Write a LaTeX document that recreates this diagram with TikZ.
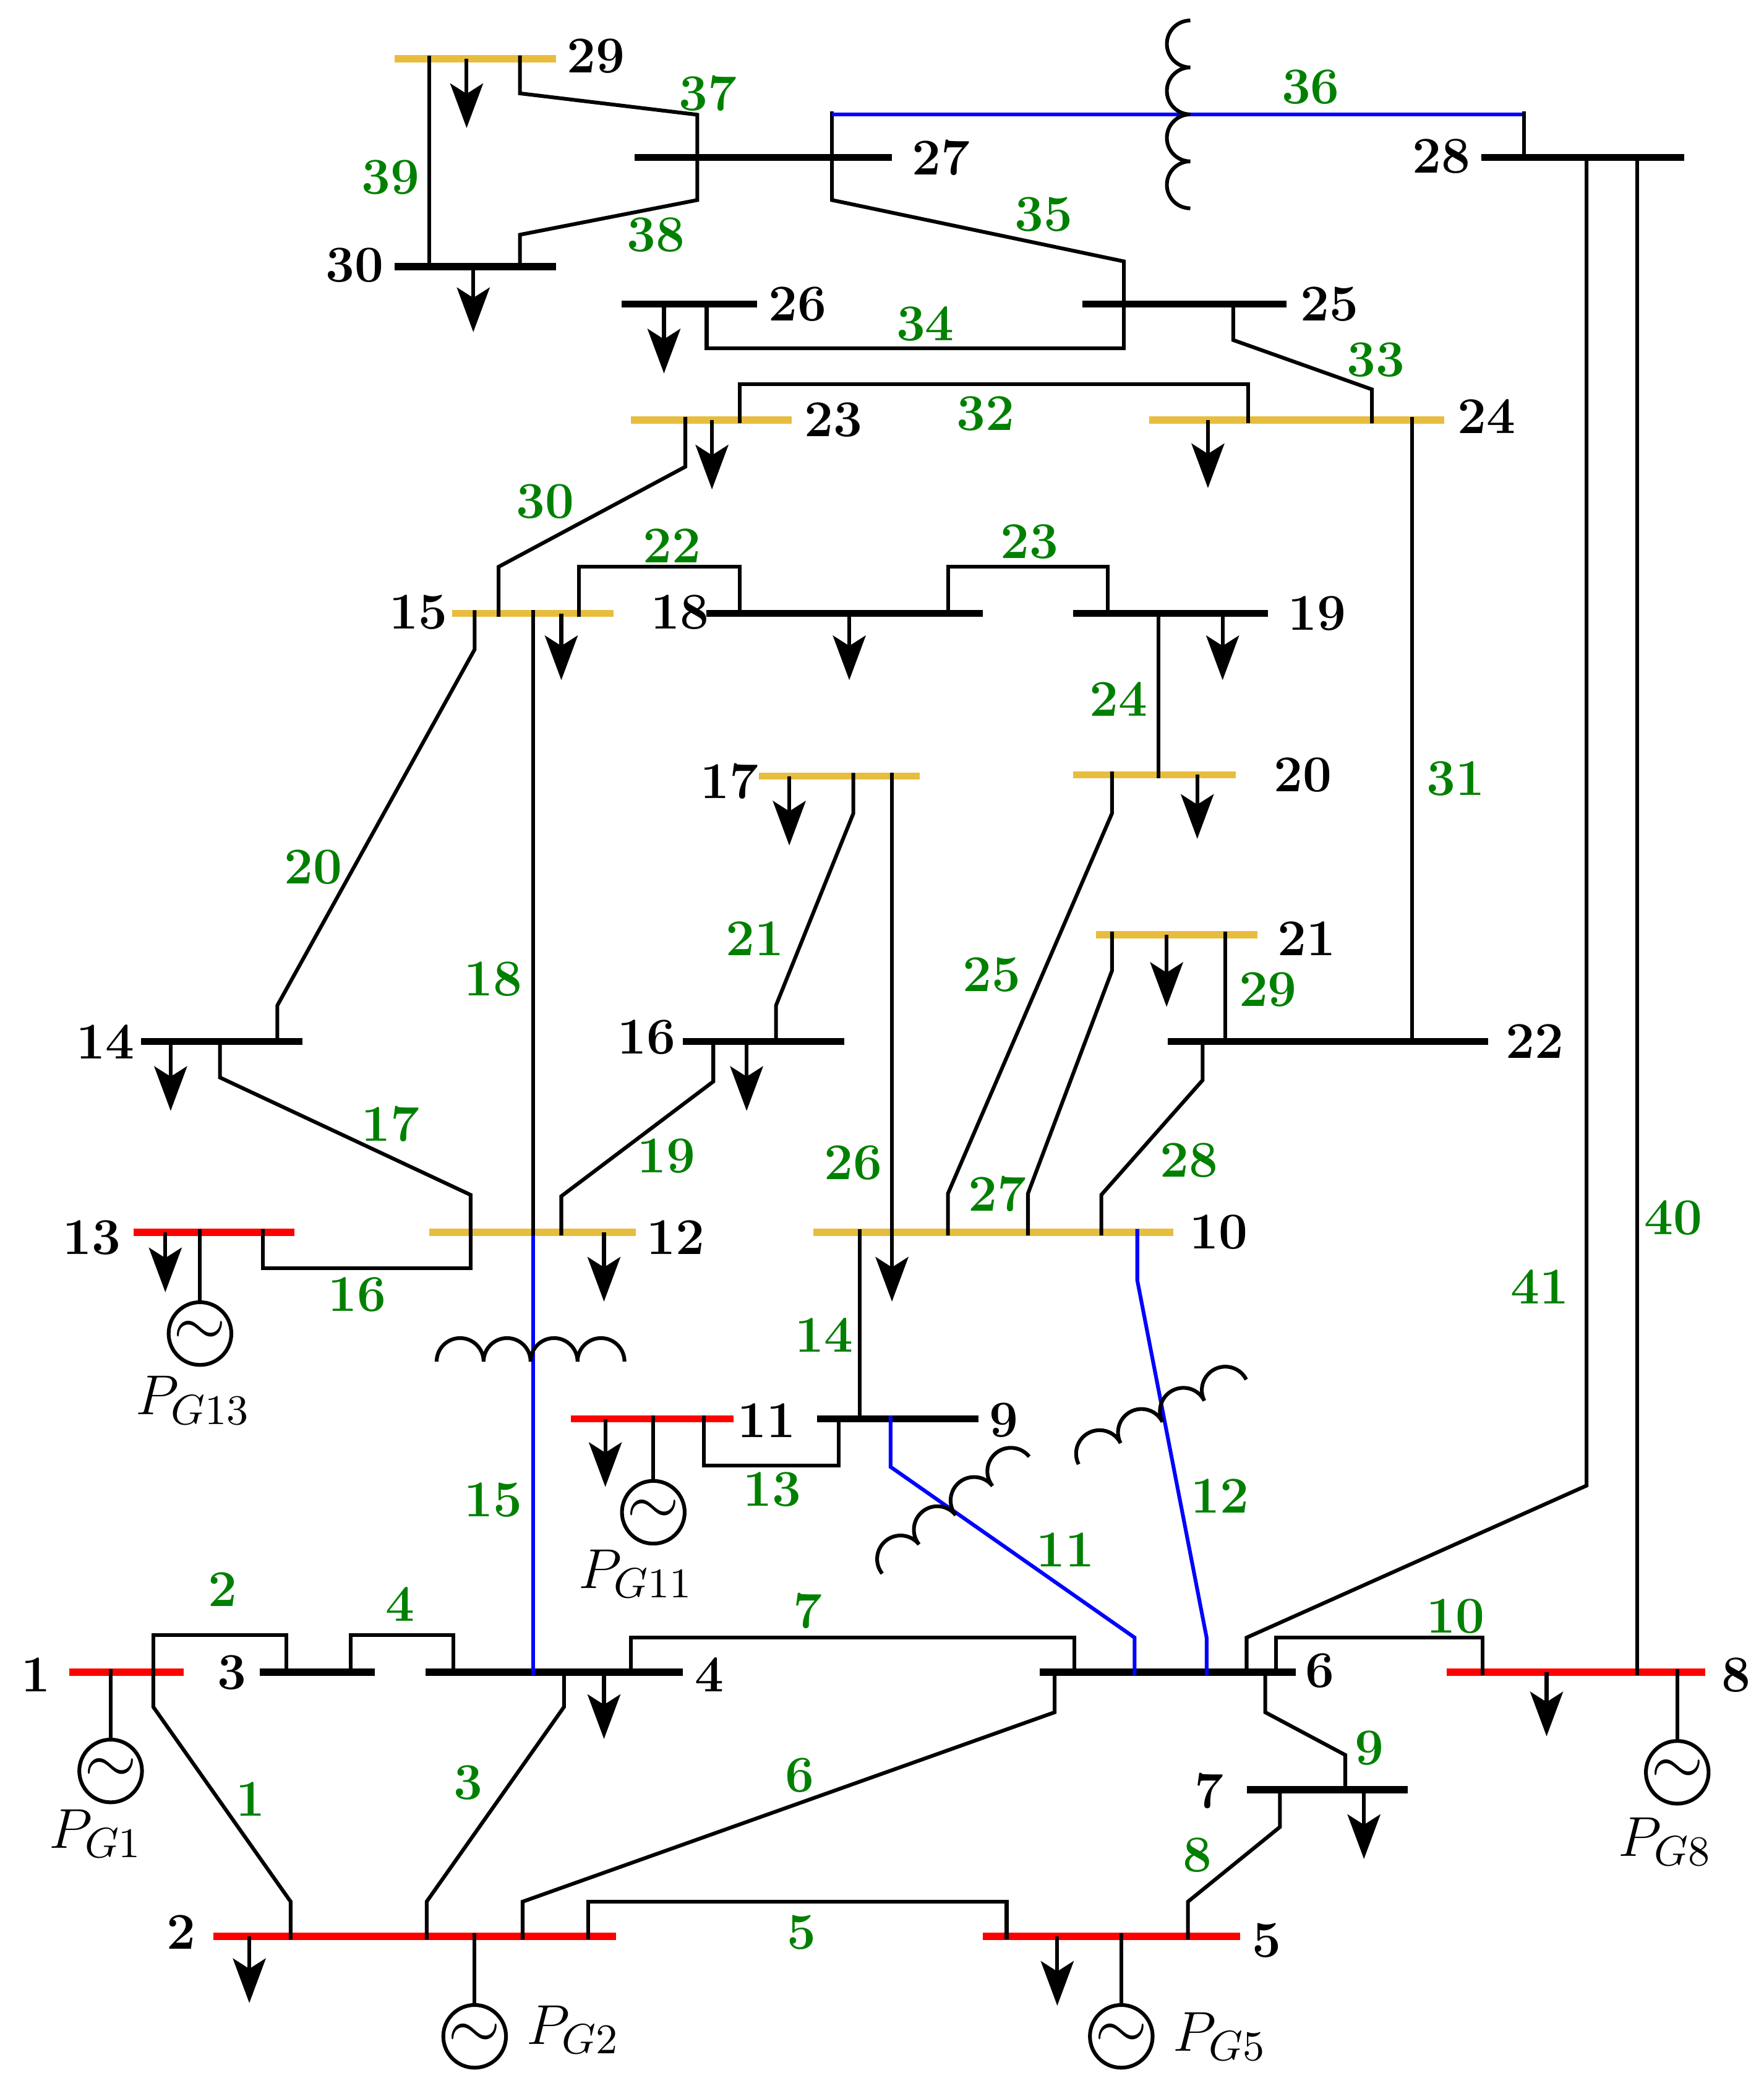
\documentclass[tikz,border=0pt]{standalone}
\usetikzlibrary{arrows.meta}
\definecolor{busgold}{RGB}{232,189,61}
\definecolor{linegreen}{RGB}{0,128,0}
\tikzset{
    busbar/.style={rectangle,inner sep=0pt,outer sep=0pt,minimum height=1.55pt},
    branch/.style={line width=0.8pt,shorten >=-0.7pt,shorten <=-0.7pt},
    xfmr/.style={branch,blue},
    load/.style={line width=0.8pt,-{Stealth[length=9.5pt,width=7pt,inset=2.2pt]}},
    coil/.style={line width=0.8pt},
    gen/.style={circle,draw,line width=0.8pt,inner sep=0pt,minimum size=0.47cm},
    busnum/.style={font=\fontsize{11}{13}\bfseries\selectfont,inner sep=0pt},
    linenum/.style={font=\fontsize{11}{13}\bfseries\selectfont,text=linegreen,inner sep=0pt},
    genname/.style={font=\fontsize{13}{15}\selectfont,inner sep=0pt}
}
\begin{document}
\begin{tikzpicture}[x=0.01cm,y=-0.01cm]
    \useasboundingbox (0,0) rectangle (1323,1568);
    % buses: number / left / right / height / colour
    \foreach \n/\xa/\xb/\y/\c in {1/52/138/1254/red,3/195/281/1254/black,4/319/512/1254/black,
        6/780/972/1254/black,8/1085/1279/1254/red,7/935/1056/1342/black,2/160/462/1452/red,
        5/737/930/1452/red,13/100/221/924/red,12/322/477/924/busgold,10/610/880/924/busgold,
        11/428/550/1064/red,9/613/734/1064/black,14/106/227/781/black,16/512/633/781/black,
        22/876/1116/781/black,21/822/943/701/busgold,17/569/690/582/busgold,20/805/927/581/busgold,
        15/339/460/460/busgold,18/530/737/460/black,19/805/951/460/black,23/473/594/315/busgold,
        24/862/1083/315/busgold,26/466/568/228/black,25/812/965/228/black,29/296/417/44/busgold,
        30/296/417/200/black,27/476/669/118/black,28/1111/1263/118/black}
        \node[busbar,fill=\c,minimum width={(\xb-\xa)*0.01cm}] (b\n) at ({(\xa+\xb)/2},\y) {};
    % bus numbers
    \foreach \x/\y/\n in {447/42/29,706/118/27,1081/117/28,266/199/30,598/228/26,997/228/25,
        625/315/23,1115/312/24,314/459/15,510/459/18,988/460/19,547/586/17,977/581/20,980/704/21,
        1151/781/22,79/781/14,485/778/16,69/928/13,507/928/12,914/924/10,575/1065/11,753/1065/9,
        27/1256/1,174/1254/3,532/1256/4,990/1253/6,1302/1256/8,907/1343/7,136/1449/2,950/1455/5}
        \node[busnum] (n\n) at (\x,\y) {\n};
    % line numbers
    \foreach \x/\y/\n in {188/1349/1,167/1192/2,351/1337/3,300/1203/4,601/1449/5,600/1331/6,
        606/1208/7,898/1391/8,1027/1311/9,1092/1212/10,799/1162/11,915/1122/12,579/1117/13,
        618/1001/14,370/1125/15,268/971/16,293/843/17,370/734/18,500/867/19,235/650/20,566/704/21,
        504/409/22,772/406/23,839/524/24,744/731/25,640/872/26,748/895/27,892/870/28,951/742/29,
        409/376/30,1092/584/31,739/310/32,1032/270/33,694/243/34,783/161/35,983/65/36,531/70/37,
        492/176/38,293/133/39,1255/913/40,1155/965/41}
        \node[linenum] (l\n) at (\x,\y) {\n};
    % lines
    \draw[branch] (b1 -| 115,0) -- (115,1280) -- (218,1426) -- (b2 -| 218,0);
    \draw[branch] (b1 -| 115,0) -- (115,1226) -- (215,1226) -- (b3 -| 215,0);
    \draw[branch] (b4 -| 423,0) -- (423,1280) -- (320,1426) -- (b2 -| 320,0);
    \draw[branch] (b3 -| 263,0) -- (263,1226) -- (340,1226) -- (b4 -| 340,0);
    \draw[branch] (b2 -| 441,0) -- (441,1426) -- (755,1426) -- (b5 -| 755,0);
    \draw[branch] (b2 -| 392,0) -- (392,1426) -- (791,1284) -- (b6 -| 791,0);
    \draw[branch] (b4 -| 473,0) -- (473,1228) -- (806,1228) -- (b6 -| 806,0);
    \draw[branch] (b5 -| 891,0) -- (891,1426) -- (960,1370) -- (b7 -| 960,0);
    \draw[branch] (b6 -| 949,0) -- (949,1284) -- (1009,1316) -- (b7 -| 1009,0);
    \draw[branch] (b6 -| 957,0) -- (957,1228) -- (1112,1228) -- (b8 -| 1112,0);
    \draw[xfmr] (b9 -| 668,0) -- (668,1100) -- (851,1228) -- (b6 -| 851,0);
    \draw[xfmr] (b10 -| 853,0) -- (853,960) -- (905,1228) -- (b6 -| 905,0);
    \draw[branch] (b11 -| 528,0) -- (528,1099) -- (629,1099) -- (b9 -| 629,0);
    \draw[branch] (b10 -| 645,0) -- (b9 -| 645,0);
    \draw[xfmr] (b12 -| 400,0) -- (b4 -| 400,0);
    \draw[branch] (b13 -| 197,0) -- (197,951) -- (353,951) -- (b12 -| 353,0);
    \draw[branch] (b14 -| 165,0) -- (165,808) -- (353,896) -- (b12 -| 353,0);
    \draw[branch] (b15 -| 400,0) -- (b12 -| 400,0);
    \draw[branch] (b16 -| 535,0) -- (535,811) -- (421,897) -- (b12 -| 421,0);
    \draw[branch] (b14 -| 208,0) -- (208,754) -- (356,487) -- (b15 -| 356,0);
    \draw[branch] (b16 -| 582,0) -- (582,754) -- (640,610) -- (b17 -| 640,0);
    \draw[branch] (b15 -| 434,0) -- (434,425) -- (555,425) -- (b18 -| 555,0);
    \draw[branch] (b18 -| 711,0) -- (711,425) -- (831,425) -- (b19 -| 831,0);
    \draw[branch] (b19 -| 869,0) -- (b20 -| 869,0);
    \draw[branch] (b10 -| 711,0) -- (711,895) -- (834,610) -- (b20 -| 834,0);
    \draw[branch] (b17 -| 669,0) -- (b10 -| 669,0);
    \draw[branch] (b10 -| 771,0) -- (771,895) -- (834,728) -- (b21 -| 834,0);
    \draw[branch] (b10 -| 826,0) -- (826,896) -- (902,810) -- (b22 -| 902,0);
    \draw[branch] (b21 -| 919,0) -- (b22 -| 919,0);
    \draw[branch] (b23 -| 514,0) -- (514,350) -- (374,425) -- (b15 -| 374,0);
    \draw[branch] (b24 -| 1059,0) -- (b22 -| 1059,0);
    \draw[branch] (b23 -| 555,0) -- (555,288) -- (936,288) -- (b24 -| 936,0);
    \draw[branch] (b25 -| 925,0) -- (925,255) -- (1029,292) -- (b24 -| 1029,0);
    \draw[branch] (b26 -| 530,0) -- (530,261) -- (843,261) -- (b25 -| 843,0);
    \draw[branch] (b27 -| 624,0) -- (624,150) -- (843,196) -- (b25 -| 843,0);
    \coordinate (t27) at (624,86);
    \coordinate (t28) at (1143,86);
    \draw[branch] (b27 -| 624,0) -- (t27);
    \draw[line width=0.8pt,blue] (t27) -- (t28);
    \draw[branch] (t28) -- (b28 -| 1143,0);
    \draw[branch] (b29 -| 390,0) -- (390,70) -- (523,86) -- (b27 -| 523,0);
    \draw[branch] (b27 -| 523,0) -- (523,150) -- (390,176) -- (b30 -| 390,0);
    \draw[branch] (b29 -| 322,0) -- (b30 -| 322,0);
    \draw[branch] (b28 -| 1228,0) -- (b8 -| 1228,0);
    \draw[branch] (b28 -| 1190,0) -- (1190,1114) -- (935,1228) -- (b6 -| 935,0);
    % loads
    \foreach \b/\x/\e in {29/350/52,30/355/49,26/498/52,23/534/52,24/906/51,15/421/50,18/637/50,
        19/917/50,17/592/52,20/898/48,21/875/54,14/128/52,16/560/52,13/124/45,12/453/52,10/669/52,
        11/454/51,4/453/50,8/1160/48,7/1023/52,2/187/50,5/793/52}
        \draw[load] (b\b -| \x,0) -- ++(0,\e);
    % generators
    \foreach \b/\x/\y in {1/83/1328,13/150/1000,11/490/1134,2/356/1527,5/841/1527,8/1258/1329} {
        \node[gen] (g\b) at (\x,\y) {\Large$\sim$};
        \draw[branch,shorten >=0pt] (b\b -| g\b) -- (g\b.north);
    }
    \node[genname] (p1) at (72,1375) {$P_{G1}$};
    \node[genname] (p13) at (145,1050) {$P_{G13}$};
    \node[genname] (p11) at (477,1180) {$P_{G11}$};
    \node[genname] (p2) at (430,1522) {$P_{G2}$};
    \node[genname] (p5) at (915,1527) {$P_{G5}$};
    \node[genname] (p8) at (1249,1381) {$P_{G8}$};
    % transformer coils
    \foreach \x/\y/\a in {327.5/1021/0,892.8/156.2/90,661.7/1180/38.5,809/1098/26.8}
        \draw[coil,shift={(\x,\y)},rotate=\a] (0,0)
            arc[start angle=180,end angle=0,radius=0.176cm]
            arc[start angle=180,end angle=0,radius=0.176cm]
            arc[start angle=180,end angle=0,radius=0.176cm]
            arc[start angle=180,end angle=0,radius=0.176cm];
\end{tikzpicture}
\end{document}
